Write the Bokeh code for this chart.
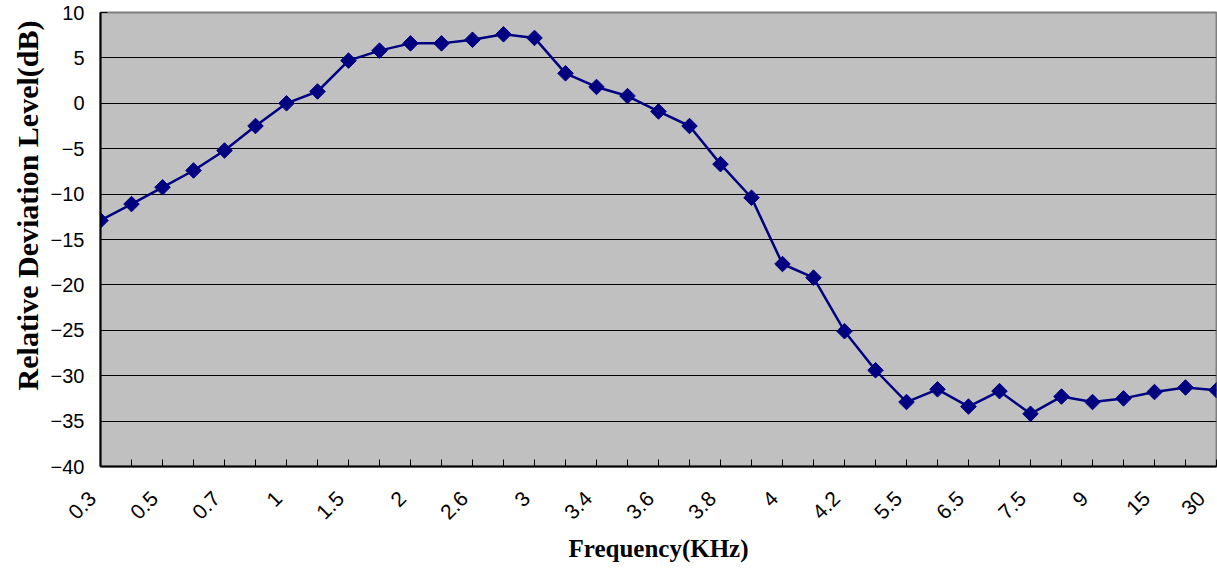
from bokeh.plotting import figure
from bokeh.models import FixedTicker, Range1d, ColumnDataSource, Title
from bokeh.embed import file_html
from bokeh.resources import INLINE
import math

# Frequency categories (kHz); only every other one is labelled on the axis
categories = ["0.3", "0.4", "0.5", "0.6", "0.7", "0.8", "1", "1.2", "1.5", "1.8",
              "2", "2.3", "2.6", "2.8", "3", "3.2", "3.4", "3.5", "3.6", "3.7",
              "3.8", "3.9", "4", "4.1", "4.2", "5", "5.5", "6", "6.5", "7",
              "7.5", "8", "9", "10", "15", "20", "30"]
# Relative deviation level (dB)
levels = [-12.9, -11.1, -9.25, -7.4, -5.2, -2.5, 0.0, 1.3, 4.7, 5.8,
          6.6, 6.6, 7.0, 7.6, 7.2, 3.3, 1.8, 0.8, -0.9, -2.5,
          -6.7, -10.4, -17.7, -19.2, -25.1, -29.4, -32.9, -31.5, -33.4, -31.7,
          -34.2, -32.3, -32.9, -32.5, -31.8, -31.3, -31.6]
y_ticks = [-40, -35, -30, -25, -20, -15, -10, -5, 0, 5, 10]

idx = list(range(len(categories)))
src = ColumnDataSource(dict(x=idx, y=levels))

p = figure(width=1217, height=568, output_backend="svg", toolbar_location=None,
           x_range=Range1d(0, len(categories) - 1), y_range=Range1d(-40, 10),
           min_border_left=100, min_border_right=1, min_border_top=12, min_border_bottom=102)

p.background_fill_color = "#C0C0C0"
p.border_fill_color = "white"
p.outline_line_color = "#808080"
p.outline_line_width = 2

p.line("x", "y", source=src, line_color="#000080", line_width=2.5)
p.scatter("x", "y", source=src, marker="square", angle=math.pi / 4, size=11,
          fill_color="#000080", line_color="#000080", line_width=1)

# axes
NB = "\u00a0"
p.xaxis.ticker = FixedTicker(ticks=idx)
p.xaxis.major_label_overrides = {i: (c + NB * 2 if i % 2 == 0 else "") for i, c in enumerate(categories)}
p.xaxis.major_label_orientation = math.pi / 4
p.xaxis.major_label_standoff = 20
p.yaxis.ticker = FixedTicker(ticks=y_ticks)
p.yaxis.major_label_overrides = {t: (str(t).replace("-", "\u2212")) for t in y_ticks}
p.yaxis.major_label_standoff = 16

for ax in (p.xaxis, p.yaxis):
    ax.axis_line_color = "black"
    ax.axis_line_width = 2
    ax.major_tick_in = 7
    ax.major_tick_out = 0
    ax.minor_tick_line_color = None
    ax.major_tick_line_color = "black"
    ax.major_label_text_font = "Liberation Sans"
    ax.major_label_text_color = "black"
p.xaxis.major_label_text_font_size = "21px"
p.yaxis.major_label_text_font_size = "20px"

p.xaxis.axis_label = "Frequency(KHz)"
p.xaxis.axis_label_text_font = "Liberation Serif"
p.xaxis.axis_label_text_font_style = "bold"
p.xaxis.axis_label_text_color = "black"
p.xaxis.axis_label_text_font_size = "25px"
p.xaxis.axis_label_standoff = 0

p.add_layout(Title(text="Relative Deviation Level(dB)", align="right", offset=8,
                   text_font="Liberation Serif", text_font_style="bold",
                   text_font_size="30px", text_color="black", standoff=8), "left")

p.xgrid.grid_line_color = None
p.ygrid.grid_line_color = "black"
p.ygrid.grid_line_width = 1
p.ygrid.ticker = FixedTicker(ticks=y_ticks)

open("out.html", "w").write(file_html(p, INLINE))
